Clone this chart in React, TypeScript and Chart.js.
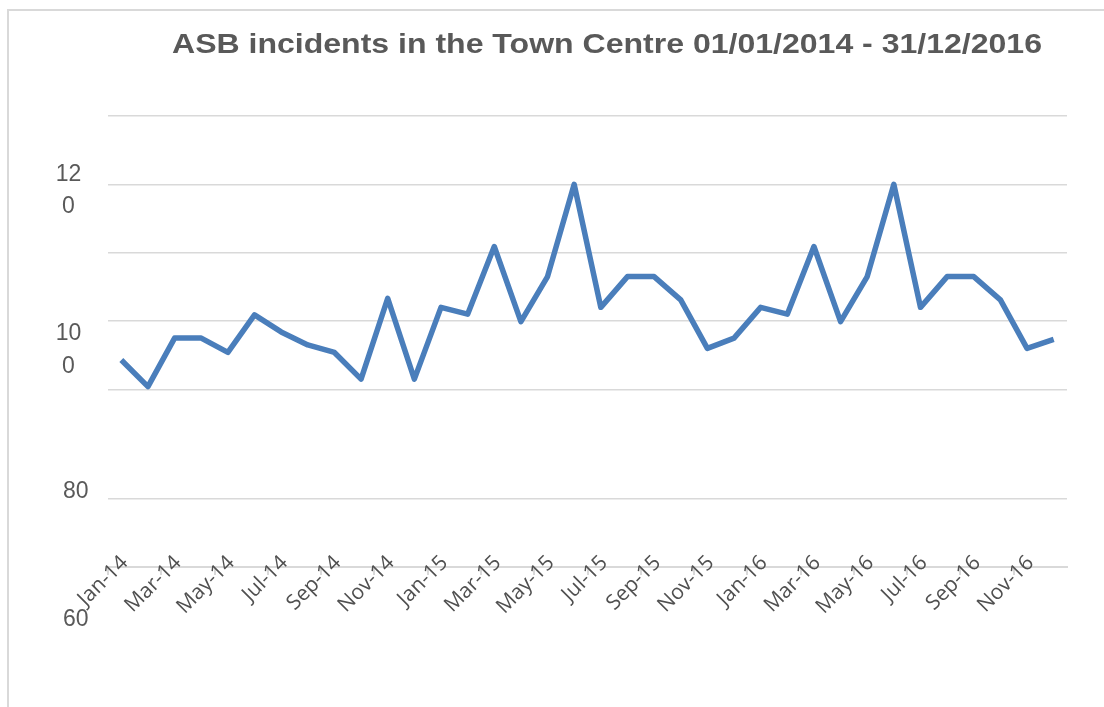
import React, { useEffect, useRef } from "react";
import { Chart, registerables } from "chart.js";

Chart.register(...registerables);

const chartTitle = "ASB incidents in the Town Centre 01/01/2014 - 31/12/2016";

const months = [
  "Jan-14", "Feb-14", "Mar-14", "Apr-14", "May-14", "Jun-14", "Jul-14", "Aug-14", "Sep-14", "Oct-14", "Nov-14", "Dec-14",
  "Jan-15", "Feb-15", "Mar-15", "Apr-15", "May-15", "Jun-15", "Jul-15", "Aug-15", "Sep-15", "Oct-15", "Nov-15", "Dec-15",
  "Jan-16", "Feb-16", "Mar-16", "Apr-16", "May-16", "Jun-16", "Jul-16", "Aug-16", "Sep-16", "Oct-16", "Nov-16", "Dec-16",
];

const incidents2014 = [94.3, 90.4, 97.5, 97.5, 95.4, 100.9, 98.4, 96.5, 95.4, 91.5, 103.3, 91.5];
const incidents2015 = [102.0, 101.0, 110.9, 99.9, 106.5, 120, 102.0, 106.5, 106.5, 103.1, 96.0, 97.5];
const incidents2016 = [102.0, 101.0, 110.9, 99.9, 106.5, 120, 102.0, 106.5, 106.5, 103.1, 96.0, 97.3];
const incidents = [...incidents2014, ...incidents2015, ...incidents2016];

const yMin = 64;
const yMax = 130;
const yGridValues = [74, 90, 100, 110, 120, 130];
const yAxisLabels = ["120", "100", "80", "60"];

const TEXT_COLOR = "#595959";
const GRID_COLOR = "#d9d9d9";

const textPlugin = {
  id: "customText",
  afterDraw(chart: any) {
    const { ctx, chartArea } = chart;
    const y = chart.scales.y;
    const x = chart.scales.x;
    ctx.save();
    ctx.fillStyle = TEXT_COLOR;

    // title
    ctx.textAlign = "left";
    ctx.textBaseline = "alphabetic";
    ctx.font = 'bold 28px "Liberation Sans", Arial, sans-serif';
    const w = ctx.measureText(chartTitle).width;
    const targetW = 870;
    ctx.save();
    ctx.translate(172, 53);
    ctx.scale(targetW / w, 1);
    ctx.fillText(chartTitle, 0, 0);
    ctx.restore();

    // y labels
    ctx.textAlign = "center";
    ctx.font = '23px "Liberation Sans", Arial, sans-serif';
    ctx.textBaseline = "middle";
    const anchors = [119.2, 95.9, 75.1, 56.4];
    const lh = 32.7;
    yAxisLabels.forEach((lab, i) => {
      const lines = lab.length > 2 ? [lab.slice(0, 2), lab.slice(2)] : [lab];
      const cx = lines.length > 1 ? 68.5 : 75.8;
      const cy = y.getPixelForValue(anchors[i]);
      lines.forEach((ln, j) => {
        ctx.fillText(ln, cx, cy + (j - (lines.length - 1) / 2) * lh + 1);
      });
    });

    // x labels (every second month), rotated 45 degrees
    const fs = 21;
    ctx.font = `${fs}px "Open Sans", sans-serif`;
    ctx.fillStyle = "#505050";
    ctx.textAlign = "right";
    ctx.textBaseline = "middle";
    const anchorY = chartArea.bottom - 15;
    months.forEach((m, i) => {
      if (i % 2 !== 0) return;
      const px = x.getPixelForValue(i) - 4;
      ctx.save();
      ctx.translate(px, anchorY);
      ctx.rotate(-Math.PI / 4);
      ctx.fillText(m, 0, fs * 0.5);
      ctx.restore();
    });
    ctx.restore();
  },
};

export default function App() {
  const canvasRef = useRef<HTMLCanvasElement | null>(null);

  useEffect(() => {
    if (!canvasRef.current) return;
    const chart = new Chart(canvasRef.current, {
      type: "line",
      data: {
        labels: months,
        datasets: [
          {
            label: "ASB incidents",
            data: incidents,
            borderColor: "#4a7ebb",
            backgroundColor: "#4a7ebb",
            borderWidth: 5.5,
            pointRadius: 0,
            tension: 0,
            borderJoinStyle: "round",
            borderCapStyle: "butt",
            fill: false,
          },
        ],
      },
      options: {
        responsive: false,
        animation: false,
        layout: { padding: { top: 116, right: 37, left: 0, bottom: 0 } },
        plugins: {
          legend: { display: false },
          title: { display: false },
          tooltip: { enabled: false },
        },
        scales: {
          x: {
            type: "category",
            offset: true,
            grid: {
              offset: true,
              drawOnChartArea: false,
              drawTicks: true,
              tickLength: 8,
              lineWidth: 2,
              color: (ctx: any) => (ctx.index % 2 === 0 ? GRID_COLOR : "rgba(0,0,0,0)"),
            },
            border: { display: true, color: GRID_COLOR, width: 2 },
            ticks: { display: false, autoSkip: false },
            afterFit: (scale: any) => {
              scale.height = 140;
            },
          },
          y: {
            type: "linear",
            min: yMin,
            max: yMax,
            grid: { color: GRID_COLOR, lineWidth: 1.5, drawTicks: false },
            border: { display: false },
            ticks: { display: false },
            afterBuildTicks: (scale: any) => {
              scale.ticks = yGridValues.map((v) => ({ value: v }));
            },
            afterFit: (scale: any) => {
              scale.width = 108;
            },
          },
        },
      },
      plugins: [textPlugin],
    });
    return () => chart.destroy();
  }, []);

  return (
    <div style={{ position: "fixed", left: 0, top: 0, width: 1104, height: 707, background: "#ffffff" }}>
      <div
        style={{
          position: "absolute",
          left: 7,
          top: 9,
          right: 0,
          bottom: 0,
          borderTop: `2px solid ${GRID_COLOR}`,
          borderLeft: `2px solid ${GRID_COLOR}`,
        }}
      />
      <canvas
        ref={canvasRef}
        width={1104}
        height={707}
        style={{ position: "absolute", left: 0, top: 0, display: "block" }}
      />
    </div>
  );
}
